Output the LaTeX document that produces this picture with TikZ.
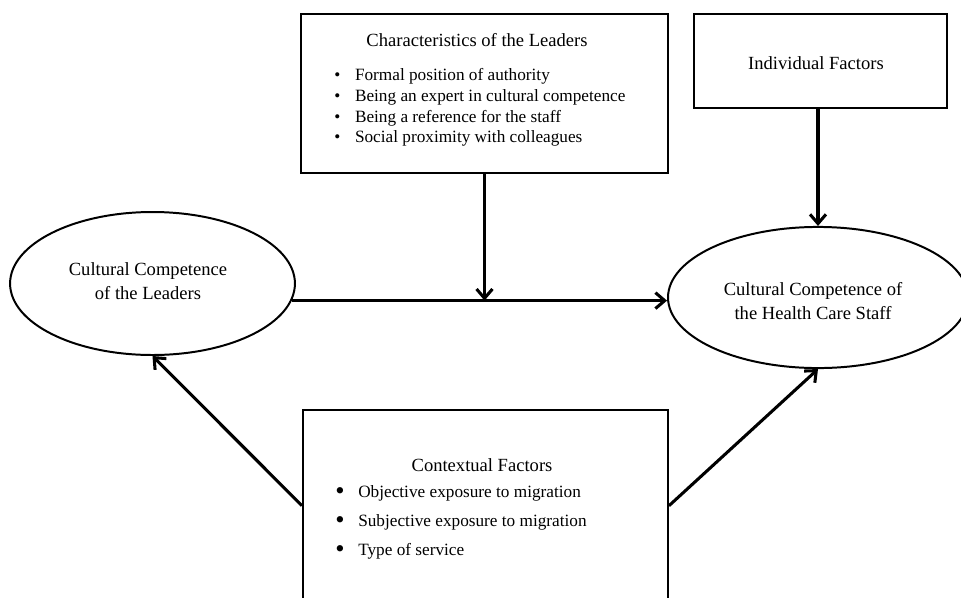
\documentclass[tikz,border=0pt]{standalone}
\usepackage{fontspec}
\setmainfont{Liberation Serif}
\usetikzlibrary{arrows.meta,shapes.geometric}

\begin{document}
\begin{tikzpicture}[x=0.0265cm,y=-0.0265cm,
    framebox/.style={draw,line width=1.6pt,rectangle,inner sep=0pt},
    bigoval/.style={draw,line width=1.5pt,ellipse,inner sep=0pt},
    txt/.style={font=\fontsize{14}{18}\selectfont,inner sep=0pt,align=center},
    item/.style={txt,font=\fontsize{13}{16}\selectfont,anchor=west},
    arr/.style={line width=2.3pt,-{Straight Barb[length=7pt,width=12pt]}}]
    \useasboundingbox (0,0) rectangle (961,597);

    \node (chars) at (484.5,93.5) [framebox,minimum width=9.73cm,minimum height=4.21cm] {};
    \node (charsTitle) at (477,40) [txt] {Characteristics of the Leaders};
    \node (c1) at (334,76) [item] {\makebox[0.55cm][l]{\textbullet}Formal position of authority};
    \node (c2) at (334,97) [item] {\makebox[0.55cm][l]{\textbullet}Being an expert in cultural competence};
    \node (c3) at (334,118) [item] {\makebox[0.55cm][l]{\textbullet}Being a reference for the staff};
    \node (c4) at (334,138) [item] {\makebox[0.55cm][l]{\textbullet}Social proximity with colleagues};

    \node (indiv) at (820.5,61) [framebox,minimum width=6.70cm,minimum height=2.49cm] {};
    \node (indivTitle) at (816,63) [txt] {Individual Factors};

    \node (leaders) at (152.5,283.5) [bigoval,minimum width=7.55cm,minimum height=3.79cm] {};
    \node (leadersText) at (148,281) [txt] {Cultural Competence\\of the Leaders};

    \node (staff) at (818,297.5) [bigoval,minimum width=7.95cm,minimum height=3.74cm] {};
    \node (staffText) at (813,301) [txt] {Cultural Competence of\\the Health Care Staff};

    \node (context) at (485.5,525) [framebox,minimum width=9.67cm,minimum height=6.1cm] {};
    \node (contextTitle) at (482,465) [txt] {Contextual Factors};
    \node (x1) at (335,493) [item] {\makebox[0.61cm][l]{\raisebox{-2pt}{\fontsize{20}{20}\selectfont\textbullet}}Objective exposure to migration};
    \node (x2) at (335,522) [item] {\makebox[0.61cm][l]{\raisebox{-2pt}{\fontsize{20}{20}\selectfont\textbullet}}Subjective exposure to migration};
    \node (x3) at (335,551) [item] {\makebox[0.61cm][l]{\raisebox{-2pt}{\fontsize{20}{20}\selectfont\textbullet}}Type of service};

    \draw[arr] (leaders.-7) -- (leaders.-7 -| staff.west);
    \draw[arr] (chars.south) -- (chars.south |- leaders.-7);
    \draw[arr] (staff.north |- indiv.south) -- (staff.north);
    \draw[arr] (context.174) -- (leaders.south);
    \draw[arr] (context.6) -- (staff.south);
\end{tikzpicture}
\end{document}
